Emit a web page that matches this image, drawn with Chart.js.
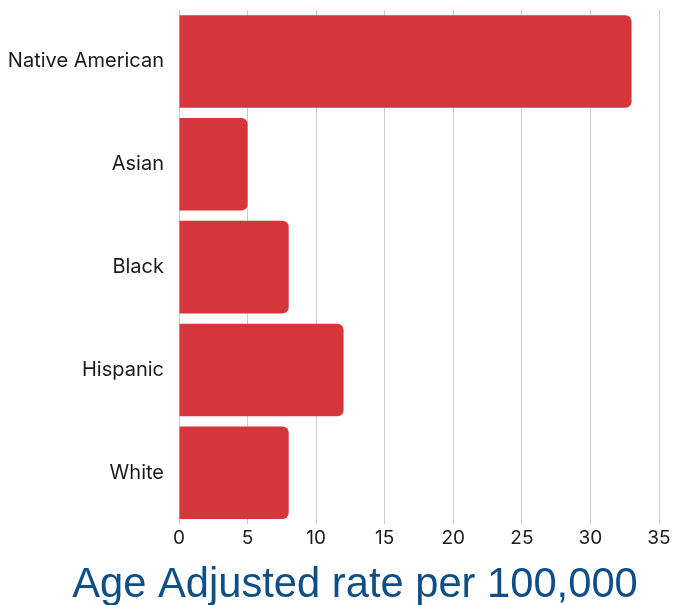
<!DOCTYPE html>
<html>
<head>
<meta charset="utf-8">
<script src="https://cdn.jsdelivr.net/npm/chart.js@4"></script>
<style>
html,body{margin:0;padding:0;background:#fff;}
#wrap{width:673px;height:605px;position:relative;}
</style>
</head>
<body>
<div id="wrap"><canvas id="c" width="673" height="605"></canvas></div>
<script>
const categories = ["Native American", "Asian", "Black", "Hispanic", "White"];
const rates = [33, 5, 8, 12, 8];
const xTicks = [0, 5, 10, 15, 20, 25, 30, 35];
const titleText = "Age Adjusted rate per 100,000";

const bottomTitle = {
  id: 'bottomTitle',
  afterDraw(chart) {
    const ctx = chart.ctx;
    ctx.save();
    ctx.font = '41.7px "Liberation Sans", Arial, sans-serif';
    ctx.fillStyle = '#0d4f86';
    ctx.textAlign = 'center';
    ctx.textBaseline = 'alphabetic';
    ctx.fillText(titleText, 355, 597);
    ctx.restore();
  }
};

new Chart(document.getElementById('c'), {
  type: 'bar',
  data: {
    labels: categories,
    datasets: [{
      data: rates,
      backgroundColor: '#d5363b',
      borderRadius: 6,
      borderSkipped: 'start',
      barPercentage: 0.9,
      categoryPercentage: 1.0
    }]
  },
  options: {
    indexAxis: 'y',
    responsive: false,
    animation: false,
    layout: { padding: { top: 10, right: 14, bottom: 52, left: 8 } },
    plugins: { legend: { display: false }, tooltip: { enabled: false } },
    scales: {
      x: {
        min: 0, max: 35,
        afterBuildTicks(axis) { axis.ticks = xTicks.map(v => ({ value: v })); },
        afterFit(axis) { axis.paddingLeft = 0; axis.paddingRight = 0; },
        grid: { color: '#cccccc', lineWidth: 1, drawTicks: false },
        border: { display: false },
        ticks: { color: '#1a1a1a', padding: 3, font: { family: 'Inter', size: 19 } }
      },
      y: {
        afterFit(axis) { axis.width = 171; axis.paddingTop = 0; axis.paddingBottom = 0; },
        grid: { display: false, drawTicks: false },
        border: { display: false },
        ticks: { color: '#1a1a1a', padding: 15, font: { family: 'Inter', size: 20 } }
      }
    }
  },
  plugins: [bottomTitle]
});
</script>
</body>
</html>
